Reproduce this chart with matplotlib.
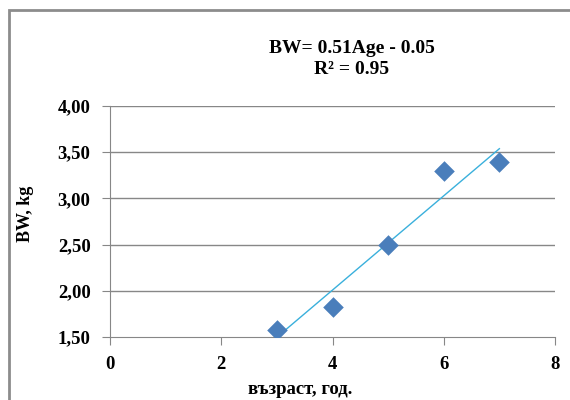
import numpy as np
import matplotlib.pyplot as plt
from matplotlib.patches import Rectangle

# data
age = [3, 4, 5, 6, 7]
bw = [1.58, 1.82, 2.50, 3.30, 3.39]
x_ticks = [0, 2, 4, 6, 8]
y_ticks = [1.5, 2.0, 2.5, 3.0, 3.5, 4.0]
y_labels = ["1,50", "2,00", "2,50", "3,00", "3,50", "4,00"]

plt.rcParams['font.family'] = ['Liberation Serif', 'DejaVu Serif']

W, H = 570, 400
fig = plt.figure(figsize=(5.7, 4.0), dpi=100)
ax = fig.add_axes([110/W, 1-337/H, 445/W, 231/H])

# outer chart border (only left/top visible in the crop)
fig.patches.append(Rectangle((9/W, -0.1), 1.2, 1-10/H+0.1, transform=fig.transFigure,
                             fill=False, edgecolor='#8c8c8c', linewidth=2))

grid_c = '#878787'
for yv in y_ticks[1:]:
    ax.axhline(yv, color=grid_c, linewidth=1, zorder=1)

# linear trend
slope, inter = np.polyfit(age, bw, 1)
xs = np.array([min(age), max(age)])
ax.plot(xs, slope*xs + inter, color='#3ab0dc', linewidth=1, zorder=2)

ax.scatter(age, bw, marker='D', s=110, color='#4a7ebb', zorder=3, linewidths=0)

ax.set_xlim(0, 8)
ax.set_ylim(1.5, 4.0)
ax.set_xticks(x_ticks)
ax.set_yticks(y_ticks)
ax.set_yticklabels(y_labels)
for s in ['top', 'right']:
    ax.spines[s].set_visible(False)
for s in ['left', 'bottom']:
    ax.spines[s].set_color(grid_c)
ax.tick_params(axis='both', colors=grid_c, length=6, labelcolor='black', labelsize=13.5)
ax.tick_params(axis='x', pad=8)
ax.tick_params(axis='y', pad=8)
for lab in ax.get_xticklabels() + ax.get_yticklabels():
    lab.set_fontweight('bold')

fig.text(300/W, 1-390/H, 'възраст, год.', ha='center', va='center',
         fontsize=13.5, fontweight='bold')
fig.text(25/W, 1-214/H, 'BW, kg', ha='center', va='center', rotation=90,
         fontsize=13, fontweight='bold')

fig.text(352/W, 1-59/H, 'BW= 0.51Age - 0.05\nR² = 0.95', ha='center', va='center',
         fontsize=14, fontweight='bold', linespacing=1.25)

fig.savefig('out.png', dpi=100)
